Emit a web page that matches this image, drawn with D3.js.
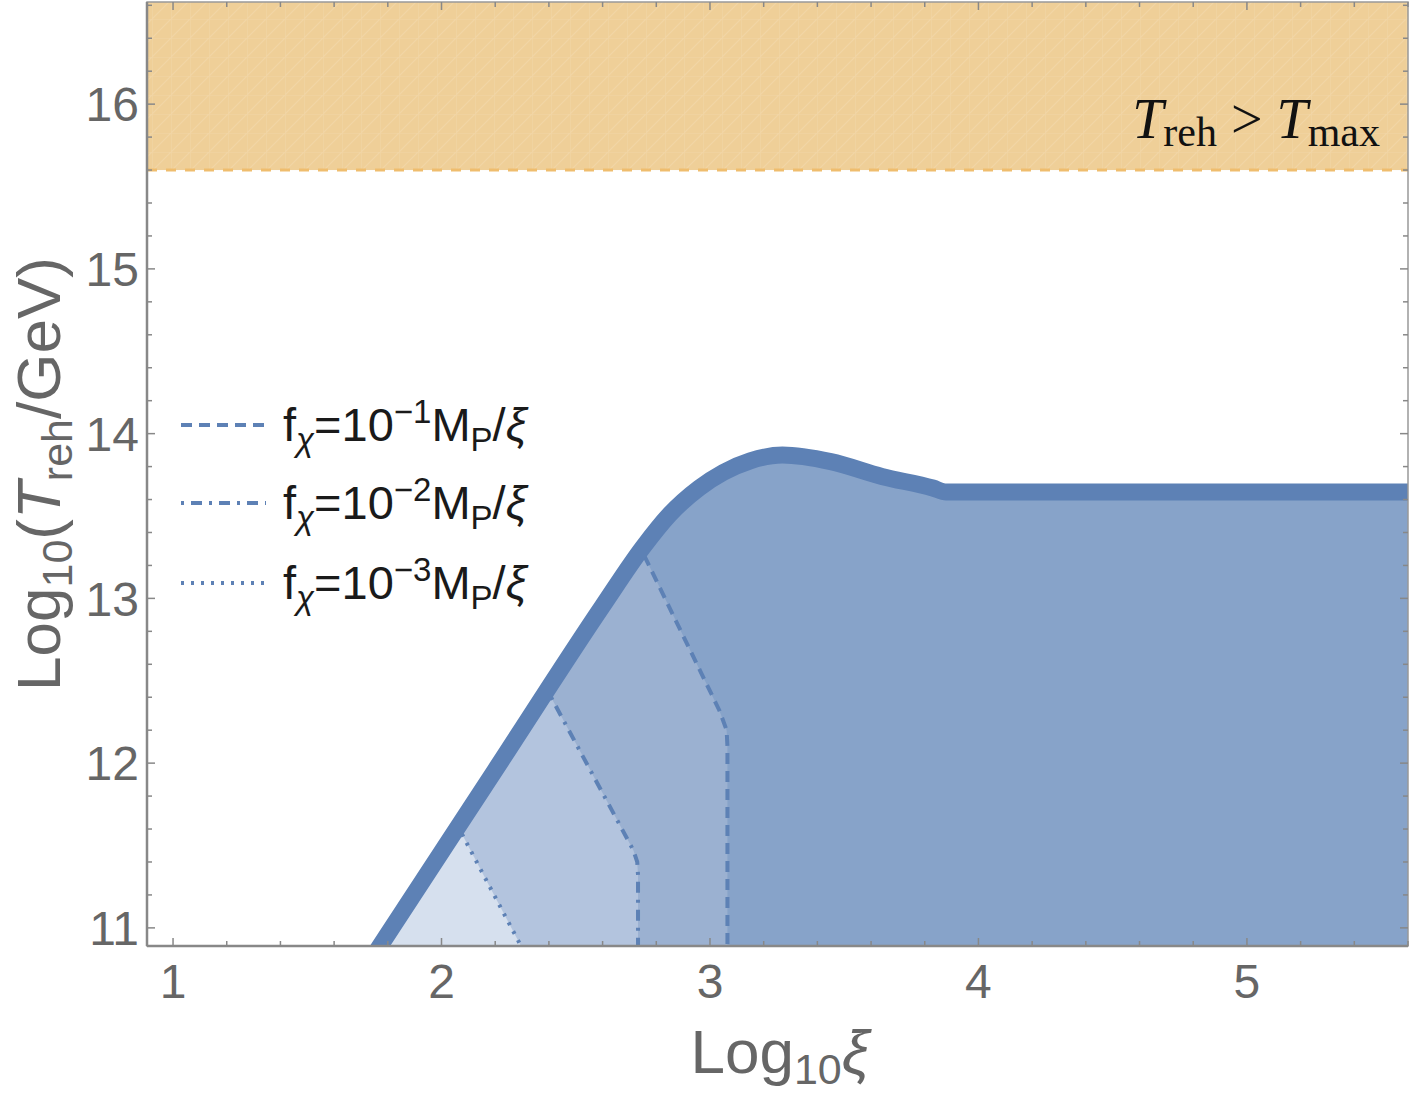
<!DOCTYPE html>
<html><head><meta charset="utf-8">
<script src="https://cdn.jsdelivr.net/npm/d3@7"></script>
<style>body{margin:0;background:#fff;} svg{display:block;}</style>
</head><body>
<svg id="chart" width="1410" height="1095"></svg>
<script>
// ---- data ----
const outerX = [1.70, 1.771, 2.20, 2.60, 2.75, 2.85, 2.96, 3.05, 3.15, 3.27, 3.45, 3.64, 3.83, 3.88, 5.60];
const outerY = [10.713, 10.89, 11.958, 12.954, 13.31, 13.51, 13.67, 13.765, 13.835, 13.87, 13.83, 13.74, 13.67, 13.645, 13.645];
// dividing curves, f_chi = 1e-1, 1e-2, 1e-3 M_P/xi
const div1X = [2.755, 3.035, 3.062, 3.065, 3.065];
const div1Y = [13.26, 12.32, 12.20, 12.10, 10.80];
const div2X = [2.408, 2.715, 2.729, 2.732, 2.732];
const div2Y = [12.40, 11.47, 11.40, 11.32, 10.80];
const div3X = [2.076, 2.296, 2.336];
const div3Y = [11.57, 10.89, 10.78];
const tmaxLevel = 15.6;
const xTicks = [1, 2, 3, 4, 5];
const yTicks = [11, 12, 13, 14, 15, 16];
const legendExp = ["\u22121", "\u22122", "\u22123"];
const legendDash = ["11,7", "3,7,11,7", "3,7"];

// ---- layout ----
const svg = d3.select("#chart");
const L = 147, R = 1408, T = 2, B = 946;
const x = d3.scaleLinear().domain([0.903, 5.6]).range([L, R]);
const y = d3.scaleLinear().domain([10.89, 16.62]).range([B, T]);
const lineCol = "#5d81b5";
const fills = ["#d6e0ee", "#b3c4de", "#9bb1d1", "#87a3c9"];

const defs = svg.append("defs");
defs.append("clipPath").attr("id", "plotClip").append("rect")
  .attr("x", L).attr("y", T).attr("width", R - L).attr("height", B - T);

const outer = outerX.map((v, i) => [v, outerY[i]]);
const area = d3.area().x(d => x(d[0])).y0(B).y1(d => y(d[1])).curve(d3.curveMonotoneX);
const line = d3.line().x(d => x(d[0])).y(d => y(d[1])).curve(d3.curveMonotoneX);

defs.append("clipPath").attr("id", "underClip").append("path").attr("d", area(outer));

// hatch pattern for orange band
const pat = defs.append("pattern").attr("id", "hatch").attr("patternUnits", "userSpaceOnUse")
  .attr("width", 19).attr("height", 19);
pat.append("rect").attr("width", 19).attr("height", 19).attr("fill", "#efcf98");
pat.append("path").attr("d", "M0,19 L19,0 M0,0 L0,19 M0,0 L19,0")
  .attr("stroke", "#fff").attr("stroke-opacity", 0.13).attr("stroke-width", 1.2);

const plot = svg.append("g").attr("clip-path", "url(#plotClip)");

// orange excluded band
plot.append("rect").attr("x", L).attr("y", T).attr("width", R - L)
  .attr("height", y(tmaxLevel) - T).attr("fill", "url(#hatch)");
plot.append("line").attr("x1", L).attr("x2", R).attr("y1", y(tmaxLevel)).attr("y2", y(tmaxLevel))
  .attr("stroke", "#efbd6e").attr("stroke-width", 3).attr("stroke-dasharray", "10,9");

// filled region under outer curve
const under = plot.append("g").attr("clip-path", "url(#underClip)");
under.append("rect").attr("x", L).attr("y", T).attr("width", R - L).attr("height", B - T).attr("fill", fills[0]);
const divs = [[div3X, div3Y], [div2X, div2Y], [div1X, div1Y]];
divs.forEach((d, i) => {
  const pts = d[0].map((v, j) => [x(v), y(d[1][j])]);
  const poly = [[pts[0][0], T - 10], ...pts, [R + 10, B + 10], [R + 10, T - 10]];
  under.append("path").attr("d", "M" + poly.map(p => p.join(",")).join("L") + "Z").attr("fill", fills[i + 1]);
});
const dl = d3.line().x(d => x(d[0])).y(d => y(d[1]));
divs.forEach((d, i) => {
  const pts = d[0].map((v, j) => [v, d[1][j]]);
  under.append("path").attr("d", dl(pts)).attr("fill", "none").attr("stroke", lineCol)
    .attr("stroke-width", 4).attr("stroke-dasharray", legendDash[2 - i]);
});
plot.append("path").attr("d", line(outer)).attr("fill", "none").attr("stroke", lineCol)
  .attr("stroke-width", 17).attr("stroke-linejoin", "round");

// ---- frame & ticks ----
const frame = svg.append("g");
frame.append("rect").attr("x", L).attr("y", T).attr("width", R - L).attr("height", B - T)
  .attr("fill", "none").attr("stroke", "#999").attr("stroke-width", 1.5);
frame.append("line").attr("x1", L).attr("x2", R).attr("y1", B).attr("y2", B).attr("stroke", "#888").attr("stroke-width", 2.5);
frame.append("line").attr("x1", L).attr("x2", L).attr("y1", T).attr("y2", B).attr("stroke", "#888").attr("stroke-width", 2.5);

const xMinor = d3.range(0.2, 5.61, 0.2).map(v => +v.toFixed(1)).filter(v => v >= 0.903 && !xTicks.includes(v));
const yMinor = d3.range(10.0, 16.61, 0.2).map(v => +v.toFixed(1)).filter(v => v >= 10.89 && !yTicks.includes(v));
const tg = frame.append("g").attr("stroke", "#888").attr("stroke-width", 1.5);
xTicks.forEach(v => {
  tg.append("line").attr("x1", x(v)).attr("x2", x(v)).attr("y1", B).attr("y2", B - 8);
  tg.append("line").attr("x1", x(v)).attr("x2", x(v)).attr("y1", T).attr("y2", T + 8);
});
xMinor.forEach(v => {
  tg.append("line").attr("x1", x(v)).attr("x2", x(v)).attr("y1", B).attr("y2", B - 5);
  tg.append("line").attr("x1", x(v)).attr("x2", x(v)).attr("y1", T).attr("y2", T + 5);
});
yTicks.forEach(v => {
  tg.append("line").attr("x1", L).attr("x2", L + 8).attr("y1", y(v)).attr("y2", y(v));
  tg.append("line").attr("x1", R).attr("x2", R - 8).attr("y1", y(v)).attr("y2", y(v));
});
yMinor.forEach(v => {
  tg.append("line").attr("x1", L).attr("x2", L + 5).attr("y1", y(v)).attr("y2", y(v));
  tg.append("line").attr("x1", R).attr("x2", R - 5).attr("y1", y(v)).attr("y2", y(v));
});

const font = "Liberation Sans, Arial, sans-serif";
const lab = svg.append("g").attr("font-family", font).attr("fill", "#666").attr("font-size", 48);
xTicks.forEach(v => lab.append("text").attr("x", x(v)).attr("y", 998).attr("text-anchor", "middle").text(v));
yTicks.forEach(v => lab.append("text").attr("x", 139).attr("y", y(v)).attr("dy", "0.36em").attr("text-anchor", "end").text(v));

// axis titles
const xt = svg.append("text").attr("font-family", font).attr("fill", "#666").attr("font-size", 62)
  .attr("x", x(3) + 70).attr("y", 1073).attr("text-anchor", "middle");
xt.append("tspan").text("Log");
xt.append("tspan").attr("font-size", 43).attr("dy", 11).text("10");
xt.append("tspan").attr("dy", -11).attr("font-style", "italic").text("\u03BE");

const yt = svg.append("text").attr("font-family", font).attr("fill", "#666").attr("font-size", 62)
  .attr("transform", `translate(60,${(T + B) / 2}) rotate(-90)`).attr("text-anchor", "middle");
yt.append("tspan").text("Log");
yt.append("tspan").attr("font-size", 43).attr("dy", 12).text("10");
yt.append("tspan").attr("dy", -12).text("(");
yt.append("tspan").attr("font-style", "italic").text("T");
yt.append("tspan").attr("font-size", 43).attr("dy", 12).text("reh");
yt.append("tspan").attr("dy", -12).text("/GeV)");

// T_reh > T_max label
const tl = svg.append("text").attr("font-family", "Liberation Serif, Times New Roman, serif").attr("fill", "#111")
  .attr("font-size", 56).attr("x", 1380).attr("y", 138).attr("text-anchor", "end");
tl.append("tspan").attr("font-style", "italic").text("T");
tl.append("tspan").attr("font-size", 42).attr("dy", 8).text("reh");
tl.append("tspan").attr("dy", -8).text(" > ");
tl.append("tspan").attr("font-style", "italic").text("T");
tl.append("tspan").attr("font-size", 42).attr("dy", 8).text("max");

// legend
const legY = [425, 503, 583];
legendExp.forEach((e, i) => {
  svg.append("line").attr("x1", 181).attr("x2", 266).attr("y1", legY[i]).attr("y2", legY[i])
    .attr("stroke", lineCol).attr("stroke-width", 4).attr("stroke-dasharray", legendDash[i]);
  const t = svg.append("text").attr("font-family", font).attr("fill", "#1a1a1a").attr("font-size", 47)
    .attr("x", 283).attr("y", legY[i] + 16);
  t.append("tspan").text("f");
  t.append("tspan").attr("font-size", 33).attr("dy", 10).attr("font-style", "italic").text("\u03C7");
  t.append("tspan").attr("dy", -10).text("=10");
  t.append("tspan").attr("font-size", 33).attr("dy", -18).text(e);
  t.append("tspan").attr("dy", 18).text("M");
  t.append("tspan").attr("font-size", 33).attr("dy", 10).text("P");
  t.append("tspan").attr("dy", -10).text("/");
  t.append("tspan").attr("font-style", "italic").text("\u03BE");
});
</script>
</body></html>
